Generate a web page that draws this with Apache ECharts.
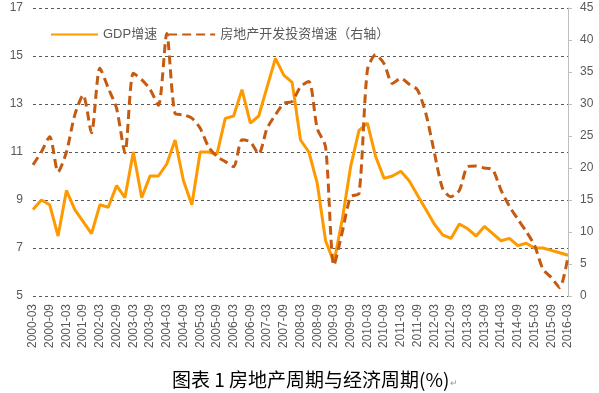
<!DOCTYPE html>
<html>
<head>
<meta charset="utf-8">
<script src="https://cdn.jsdelivr.net/npm/echarts@6/dist/echarts.min.js"></script>
<style>
html,body{margin:0;padding:0;background:#fff;}
#chart{width:599px;height:393px;}
</style>
</head>
<body>
<div id="chart"></div>
<script>
const categories = [
  '2000-03','2000-06','2000-09','2000-12',
  '2001-03','2001-06','2001-09','2001-12',
  '2002-03','2002-06','2002-09','2002-12',
  '2003-03','2003-06','2003-09','2003-12',
  '2004-03','2004-06','2004-09','2004-12',
  '2005-03','2005-06','2005-09','2005-12',
  '2006-03','2006-06','2006-09','2006-12',
  '2007-03','2007-06','2007-09','2007-12',
  '2008-03','2008-06','2008-09','2008-12',
  '2009-03','2009-06','2009-09','2009-12',
  '2010-03','2010-06','2010-09','2010-12',
  '2011-03','2011-06','2011-09','2011-12',
  '2012-03','2012-06','2012-09','2012-12',
  '2013-03','2013-06','2013-09','2013-12',
  '2014-03','2014-06','2014-09','2014-12',
  '2015-03','2015-06','2015-09','2015-12',
  '2016-03'
];

// GDP增速 (left axis, %)
const gdpGrowth = [
  8.6, 9.0, 8.8, 7.5,
  9.4, 8.6, 8.1, 7.6,
  8.8, 8.7, 9.6, 9.1,
  11.0, 9.1, 10.0, 10.0,
  10.5, 11.5, 9.8, 8.8,
  11.0, 11.0, 10.9, 12.4,
  12.5, 13.6, 12.2, 12.5,
  13.7, 14.9, 14.2, 13.9,
  11.5, 11.0, 9.7, 7.3,
  6.4, 8.2, 10.4, 11.9,
  12.2, 10.8, 9.9, 10.0,
  10.2, 9.8, 9.2, 8.6,
  8.0, 7.55, 7.4, 8.0,
  7.8, 7.5, 7.9, 7.6,
  7.3, 7.4, 7.1, 7.2,
  7.0, 7.0, 6.9, 6.8,
  6.7
];

// 房地产开发投资增速 (right axis, %)
const realEstateGrowth = [
  20.5, 22.5, 24.9, 19.4,
  22.5, 28.3, 31.4, 25.5,
  35.6, 32.5, 29.3, 22.4,
  34.8, 33.8, 32.3, 29.8,
  41.0, 28.5, 28.3, 27.8,
  26.2, 23.3, 21.8, 21.0,
  20.2, 24.4, 24.1, 22.2,
  26.2, 28.3, 30.1, 30.4,
  32.7, 33.5, 26.2, 23.3,
  4.8, 10.0, 15.5, 16.0,
  35.3, 37.7, 36.3, 33.2,
  34.0, 33.1, 32.2, 28.5,
  22.5, 16.8, 15.5, 16.5,
  20.2, 20.3, 20.0, 19.7,
  16.5, 14.0, 12.0, 10.1,
  7.9, 4.2, 2.9, 1.3,
  6.2
];

const leftTicks = {min: 5, max: 17, interval: 2};
const rightTicks = {min: 0, max: 45, interval: 5};

const seriesNames = ['GDP增速', '房地产开发投资增速（右轴）'];
const chartTitle = '图表 1 房地产周期与经济周期(%)';

const chart = echarts.init(document.getElementById('chart'), null, {renderer: 'canvas'});
const labelFont = "'Liberation Sans','Noto Sans CJK SC',sans-serif";
chart.setOption({
  animation: false,
  backgroundColor: '#ffffff',
  textStyle: {fontFamily: labelFont},
  title: {
    text: chartTitle + '{m|↵}',
    left: 167,
    top: 365,
    textStyle: {
      fontFamily: "'Noto Sans CJK SC',sans-serif",
      fontSize: 19,
      fontWeight: 'normal',
      color: '#000000',
      rich: {m: {fontSize: 9, color: '#999999', padding: [6, 0, 0, 1]}}
    }
  },
  legend: {
    left: 45,
    top: 23,
    itemWidth: 47,
    itemHeight: 12,
    itemGap: 10,
    itemStyle: {opacity: 0},
    textStyle: {fontSize: 13, color: '#595959', fontFamily: labelFont},
    data: [
      {name: seriesNames[0]},
      {name: seriesNames[1]}
    ]
  },
  grid: {left: 33, right: 31, top: 8, bottom: 97, containLabel: false},
  xAxis: {
    type: 'category',
    data: categories,
    boundaryGap: false,
    axisLine: {show: false},
    axisTick: {show: false},
    splitLine: {show: false},
    axisLabel: {interval: 1, rotate: 90, fontSize: 12, color: '#595959', margin: 8, fontFamily: labelFont}
  },
  yAxis: [
    {
      type: 'value',
      position: 'left',
      min: leftTicks.min, max: leftTicks.max, interval: leftTicks.interval,
      axisLine: {show: false},
      axisTick: {show: false},
      splitLine: {show: true, lineStyle: {type: [3, 3], color: '#595959', width: 1}},
      axisLabel: {fontSize: 12, color: '#595959', margin: 10}
    },
    {
      type: 'value',
      position: 'right',
      min: rightTicks.min, max: rightTicks.max, interval: rightTicks.interval,
      axisLine: {show: true, lineStyle: {color: '#BFBFBF', width: 1}},
      axisTick: {show: true, length: 4, lineStyle: {color: '#BFBFBF'}},
      splitLine: {show: false},
      axisLabel: {fontSize: 12, color: '#595959', margin: 12}
    }
  ],
  series: [
    {
      name: seriesNames[0],
      type: 'line',
      yAxisIndex: 0,
      data: gdpGrowth,
      symbol: 'none',
      showSymbol: false,
      color: '#FF9900',
      lineStyle: {color: '#FF9900', width: 3},
      z: 2
    },
    {
      name: seriesNames[1],
      type: 'line',
      yAxisIndex: 1,
      data: realEstateGrowth,
      symbol: 'none',
      showSymbol: false,
      smooth: 0.25,
      color: '#C55A11',
      lineStyle: {color: '#C55A11', width: 3, type: [9, 5]},
      z: 3
    }
  ]
});
</script>
</body>
</html>
